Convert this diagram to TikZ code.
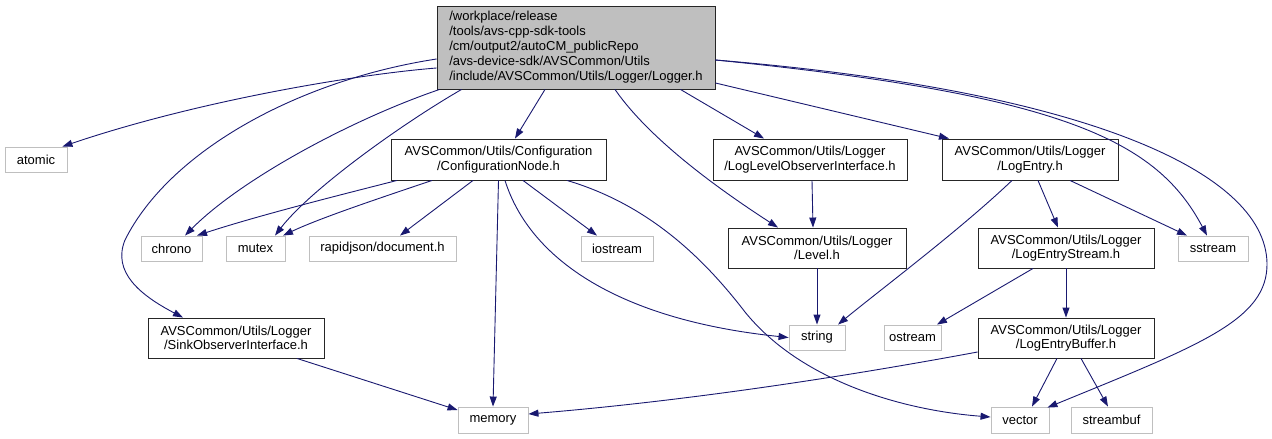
\documentclass[tikz,border=0pt]{standalone}
\usepackage{fontspec}
\setmainfont{Liberation Sans}
\usetikzlibrary{arrows.meta,positioning}
\definecolor{inclcolor}{RGB}{25,25,112}
\definecolor{extcolor}{RGB}{191,191,191}
\definecolor{rootcolor}{RGB}{191,191,191}

\begin{document}
\begin{tikzpicture}[
    x=1pt, y=-1pt,
    box/.style={rectangle, draw=black!85, line width=0.9pt, inner sep=0pt, align=center, font=\fontsize{13}{14.5}\selectfont},
    filebox/.style={box, minimum width=176pt, minimum height=40pt},
    extbox/.style={box, draw=extcolor, minimum height=25pt},
    rootbox/.style={box, fill=rootcolor, minimum width=278pt, minimum height=83pt, align=left, font=\fontsize{13}{15}\selectfont},
    incl/.style={-{Triangle[length=10pt, width=7pt]}, color=inclcolor, line width=0.9pt}
]
\useasboundingbox (0,0) rectangle (1272,439);

% Root file
\node[rootbox] (root) at (576, 47.5) {/workplace/release\\/tools/avs-cpp-sdk-tools\\/cm/output2/autoCM\_publicRepo\\/avs-device-sdk/AVSCommon/Utils\\/include/AVSCommon/Utils/Logger/Logger.h};

% First level
\node[extbox, minimum width=62pt] (atomic) at (36, 159.5) {atomic};
\node[filebox, minimum width=215pt, minimum height=41pt] (confnode) at (498.5, 159.5) {AVSCommon/Utils/Configuration\\/ConfigurationNode.h};
\node[filebox, minimum width=194pt, minimum height=41pt] (loglevelobs) at (810, 159.5) {AVSCommon/Utils/Logger\\/LogLevelObserverInterface.h};
\node[filebox, minimum height=41pt] (logentry) at (1030, 159.5) {AVSCommon/Utils/Logger\\/LogEntry.h};

% Second level
\node[extbox, minimum width=61pt] (chrono) at (171.5, 248.5) {chrono};
\node[extbox, minimum width=59pt] (mutex) at (255.5, 248.5) {mutex};
\node[extbox, minimum width=147pt] (rapidjson) at (382.5, 248.5) {rapidjson/document.h};
\node[extbox, minimum width=72pt] (iostream) at (617, 248.5) {iostream};
\node[filebox, minimum width=178pt] (level) at (817, 248) {AVSCommon/Utils/Logger\\/Level.h};
\node[filebox] (logstream) at (1066, 248) {AVSCommon/Utils/Logger\\/LogEntryStream.h};
\node[extbox, minimum width=70pt] (sstream) at (1213, 248.5) {sstream};

% Third level
\node[filebox] (sinkobs) at (236, 338) {AVSCommon/Utils/Logger\\/SinkObserverInterface.h};
\node[extbox, minimum width=56pt] (string) at (817, 337.5) {string};
\node[extbox, minimum width=57pt] (ostream) at (912.5, 337.5) {ostream};
\node[filebox] (logbuffer) at (1066, 338) {AVSCommon/Utils/Logger\\/LogEntryBuffer.h};

% Bottom level
\node[extbox, minimum width=70pt, minimum height=26pt] (memory) at (493, 420) {memory};
\node[extbox, minimum width=58pt, minimum height=26pt] (vector) at (1020, 420) {vector};
\node[extbox, minimum width=81pt, minimum height=26pt] (streambuf) at (1111.5, 420) {streambuf};

% Arrows - from root
\draw[incl] ([yshift=-20.5pt]root.west) .. controls (360,74) and (200,100) .. ([xshift=-5pt]atomic.north east);
\draw[incl] ([yshift=-11.5pt]root.west) .. controls (300,80) and (170,150) .. (125,240) .. controls (112,272) and (140,295) .. ([xshift=-53pt]sinkobs.north);
\draw[incl] ([xshift=3pt]root.south west) .. controls (350,120) and (240,180) .. ([xshift=13.5pt]chrono.north);
\draw[incl] ([xshift=25pt]root.south west) .. controls (400,125) and (310,190) .. ([xshift=19.5pt]mutex.north);
\draw[incl] ([xshift=-31pt]root.south) -- ([xshift=16.5pt]confnode.north);
\draw[incl] ([xshift=39pt]root.south) .. controls (650,140) and (720,190) .. ([xshift=-39pt]level.north);
\draw[incl] ([xshift=-35pt]root.south east) -- ([xshift=-46pt]loglevelobs.north);
\draw[incl] ([yshift=-35.5pt]root.east) -- ([xshift=-81pt]logentry.north);
\draw[incl] ([yshift=-12.5pt]root.east) .. controls (1065,95) and (1157,141) .. ([xshift=-6pt]sstream.north);
\draw[incl] ([yshift=-12.5pt]root.east) .. controls (1080,90) and (1265,170) .. (1267,263) .. controls (1268,320) and (1200,345) .. ([xshift=-2pt, yshift=-1pt]vector.north east);

% Arrows - ConfigurationNode
\draw[incl] ([xshift=-101.5pt]confnode.south) .. controls (340,195) and (260,215) .. ([xshift=25.5pt]chrono.north);
\draw[incl] ([xshift=-66.5pt]confnode.south) .. controls (380,198) and (320,218) .. ([xshift=27.5pt]mutex.north);
\draw[incl] ([xshift=-25.5pt]confnode.south) -- ([xshift=17.5pt]rapidjson.north);
\draw[incl] ([xshift=24.5pt]confnode.south) -- ([xshift=-20pt]iostream.north);
\draw[incl] (confnode.south) -- (memory.north);
\draw[incl] ([xshift=6.5pt]confnode.south) .. controls (530,260) and (620,320) .. (string.west);
\draw[incl] ([xshift=68.5pt]confnode.south) .. controls (650,205) and (705,260) .. (745,312) .. controls (800,380) and (900,410) .. ([yshift=3pt]vector.west);

% Arrows - Logger headers
\draw[incl] ([xshift=2pt]loglevelobs.south) -- ([xshift=-4pt]level.north);
\draw[incl] (level.south) -- (string.north);
\draw[incl] ([xshift=-18pt]logentry.south) .. controls (960,230) and (880,290) .. ([xshift=21pt]string.north);
\draw[incl] ([xshift=8pt]logentry.south) -- ([xshift=-8pt]logstream.north);
\draw[incl] ([xshift=40pt]logentry.south) -- ([xshift=-26pt]sstream.north);
\draw[incl] ([xshift=-33pt]logstream.south) -- ([xshift=24.5pt]ostream.north);
\draw[incl] (logstream.south) -- (logbuffer.north);
\draw[incl] ([yshift=-14pt]logbuffer.west) .. controls (800,385) and (650,404) .. ([yshift=6pt]memory.east);
\draw[incl] ([xshift=-9pt]logbuffer.south) -- ([xshift=12pt]vector.north);
\draw[incl] ([xshift=15pt]logbuffer.south) -- ([xshift=-3.5pt]streambuf.north);
\draw[incl] ([xshift=61pt]sinkobs.south) -- ([yshift=10pt]memory.west);

\end{tikzpicture}
\end{document}
